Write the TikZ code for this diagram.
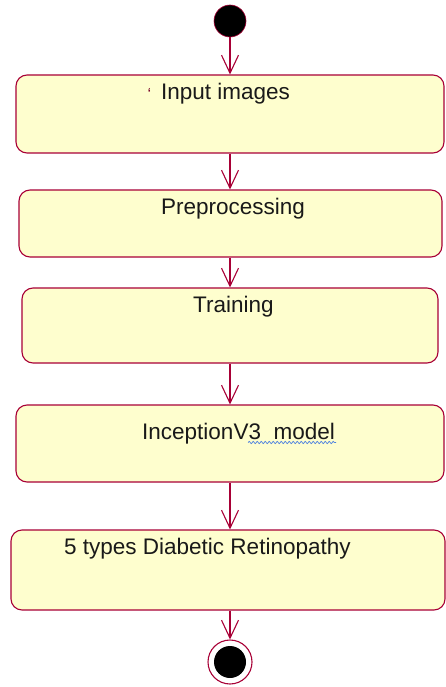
\documentclass[tikz,border=0pt]{standalone}
\usepackage{fontspec}
\setmainfont{Liberation Sans}
\usetikzlibrary{arrows.meta,decorations.pathmorphing}
\definecolor{umlred}{HTML}{A80036}
\definecolor{umlfill}{HTML}{FEFECE}
\definecolor{spell}{HTML}{4A7FDF}
\begin{document}
\begin{tikzpicture}[x=1pt,y=-1pt,
  actbox/.style={draw=umlred, fill=umlfill, line width=1.1pt, rounded corners=11pt, inner sep=0pt},
  lbl/.style={anchor=base west, inner sep=0pt, font=\fontsize{22.5}{27}\selectfont, text=black!90},
  flow/.style={draw=umlred, line width=1.1pt, -{Straight Barb[length=18pt,width=17pt,line width=1.1pt]}}]
\useasboundingbox (0,0) rectangle (446,687);
% start
\node[circle, fill=black, draw=umlred, line width=0.6pt, minimum size=32pt, inner sep=0pt] (start) at (230,21) {};
% boxes
\node[actbox, minimum width=428pt, minimum height=78pt] (b1) at (230,114) {};
\node[actbox, minimum width=423pt, minimum height=67pt] (b2) at (230.5,223.5) {};
\node[actbox, minimum width=416pt, minimum height=75pt] (b3) at (230,325.5) {};
\node[actbox, minimum width=428pt, minimum height=77pt] (b4) at (230,443.5) {};
\node[actbox, minimum width=434pt, minimum height=80pt] (b5) at (228,570) {};
% end
\node[circle, fill=white, draw=umlred, line width=1.1pt, minimum size=44pt, inner sep=0pt] (end) at (230,662) {};
\node[circle, fill=black, minimum size=32pt, inner sep=0pt] (endin) at (230,662) {};
% labels
\node[lbl, font=\fontsize{16}{18}\selectfont, text=umlred!70!black] (tick) at (147.5,99.5) {`};
\node[lbl] (t1) at (161,99.5) {Input images};
\node[lbl] (t2) at (161,214.5) {Preprocessing};
\node[lbl] (t3) at (193,312.5) {Training};
\node[lbl] (t4) at (142,439) {InceptionV3\ \ model};
\node[lbl] (t5) at (64,554) {5 types Diabetic Retinopathy};
\coordinate (w1) at (248,442.5);
\coordinate (w2) at (336,442.5);
\draw[spell, line width=0.7pt, decorate, decoration={snake, amplitude=1.1pt, segment length=4pt}] (w1) -- (w2);
% connectors
\draw[flow] (start.south) -- (start.south |- b1.north);
\draw[flow] (b1.south -| start) -- (b2.north -| start);
\draw[flow] (b2.south -| start) -- (b3.north -| start);
\draw[flow] (b3.south -| start) -- (b4.north -| start);
\draw[flow] (b4.south -| start) -- (b5.north -| start);
\draw[flow] (b5.south -| start) -- (end.north);
\end{tikzpicture}
\end{document}
